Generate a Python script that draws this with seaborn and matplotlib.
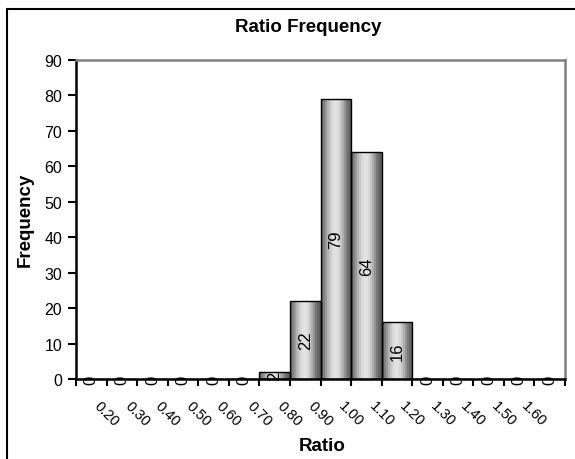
import numpy as np
import pandas as pd
import matplotlib
matplotlib.use("Agg")
import matplotlib.pyplot as plt
from matplotlib.lines import Line2D
import seaborn as sns

# Histogram bins (upper bound of each ratio bin) and their counts
bin_names = ["0.20", "0.30", "0.40", "0.50", "0.60", "0.70", "0.80", "0.90",
             "1.00", "1.10", "1.20", "1.30", "1.40", "1.50", "1.60", "More"]
tick_labels = ["0.20", "0.30", "0.40", "0.50", "0.60", "0.70", "0.80", "0.90",
               "1.00", "1.10", "1.20", "1.30", "1.40", "1.50", "1.60", ""]
frequency = [0, 0, 0, 0, 0, 0, 2, 22, 79, 64, 16, 0, 0, 0, 0, 0]

df = pd.DataFrame({"Ratio": bin_names, "Frequency": frequency})

sns.set_style("white")
plt.rcParams["font.family"] = ["Liberation Sans", "DejaVu Sans"]
plt.rcParams["text.color"] = "black"
plt.rcParams["axes.labelcolor"] = "black"
plt.rcParams["xtick.color"] = "black"
plt.rcParams["ytick.color"] = "black"

fig = plt.figure(figsize=(5.75, 4.6), dpi=100)
ax = fig.add_axes([76 / 575, 1 - 380 / 460, (565 - 76) / 575, (380 - 61) / 460])

sns.barplot(data=df, x="Ratio", y="Frequency", order=bin_names,
            width=1.0, color="#bbbbbb", edgecolor="black", linewidth=1.0,
            ax=ax, zorder=2)

# Horizontal cylinder-style shading for each bar
stops = [0.40, 0.50, 0.60, 0.70, 0.78, 0.84, 0.88, 0.89, 0.88, 0.84,
         0.77, 0.68, 0.58, 0.48, 0.40, 0.36]
shade = np.array(stops)[None, :]
for patch in ax.patches:
    x0, y0 = patch.get_x(), patch.get_y()
    w, h = patch.get_width(), patch.get_height()
    if h <= 0:
        continue
    im = ax.imshow(shade, cmap="gray", vmin=0, vmax=1, aspect="auto",
                   extent=(x0, x0 + w, y0, y0 + h), interpolation="nearest",
                   zorder=1.9)
    im.set_clip_path(patch)
    patch.set_facecolor("none")
    patch.set_zorder(2.1)

ax.bar_label(ax.containers[0], labels=[str(v) for v in frequency],
             label_type="center", rotation=90, fontsize=12, color="black",
             zorder=3)

ax.set_xlim(-0.5, len(bin_names) - 0.5)
ax.set_ylim(0, 90)
ax.set_yticks(np.arange(0, 91, 10))
ax.tick_params(axis="y", labelsize=11.5, length=6, width=1.5, color="black",
               labelcolor="black", direction="out", left=True, pad=4)

# category boundaries carry tick marks, labels sit at category centres
ax.set_xticks(np.arange(len(bin_names) + 1) - 0.5)
ax.set_xticklabels([])
ax.set_xticks(np.arange(len(bin_names)), minor=True)
ax.set_xticklabels(tick_labels, minor=True, rotation=-45, ha="left", va="top",
                   fontsize=10.5)
ax.tick_params(axis="x", which="major", length=5, width=1.5, color="black",
               direction="out", bottom=True)
ax.tick_params(axis="x", which="minor", length=0, pad=14, labelcolor="black")

for side in ("left", "bottom"):
    ax.spines[side].set_color("black")
    ax.spines[side].set_linewidth(1.8)
for side in ("top", "right"):
    ax.spines[side].set_visible(True)
    ax.spines[side].set_color("#808080")
    ax.spines[side].set_linewidth(1.8)

ax.set_xlabel("")
ax.set_ylabel("")
fig.text(308 / 575, 1 - 28 / 460, "Ratio Frequency", ha="center", va="center",
         fontsize=13.5, fontweight="bold", color="black")
fig.text(322 / 575, 1 - 447 / 460, "Ratio", ha="center", va="center",
         fontsize=13.5, fontweight="bold", color="black")
fig.text(25 / 575, 1 - 220 / 460, "Frequency", ha="center", va="center",
         rotation=90, fontsize=13.5, fontweight="bold", color="black")

# chart frame
fig.add_artist(Line2D([7 / 575, 7 / 575], [0, 1 - 10 / 460], color="black",
                      linewidth=1.5, transform=fig.transFigure))
fig.add_artist(Line2D([7 / 575, 1], [1 - 10 / 460, 1 - 10 / 460], color="black",
                      linewidth=1.5, transform=fig.transFigure))

fig.savefig("out.png", dpi=100, facecolor="white")
